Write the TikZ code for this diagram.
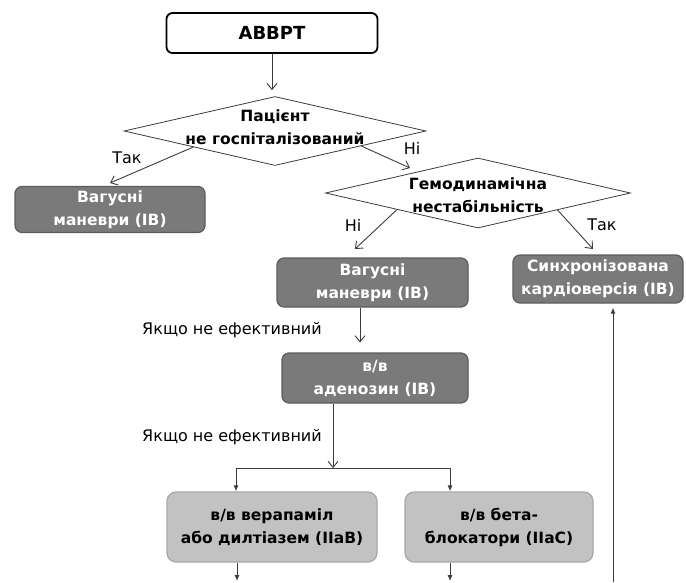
\documentclass[tikz,border=0pt]{standalone}
\usepackage{fontspec}
\setmainfont{DejaVu Sans}
\usetikzlibrary{shapes.geometric,arrows.meta,calc}
\definecolor{darkbox}{RGB}{122,122,122}
\definecolor{darkedge}{RGB}{92,92,92}
\definecolor{lightbox}{RGB}{194,194,194}
\definecolor{lightedge}{RGB}{168,168,168}
\definecolor{linecol}{RGB}{60,60,60}
\begin{document}
\begin{tikzpicture}[x=1pt,y=-1pt,
  boxfont/.style={font=\bfseries\fontsize{15.5}{23}\selectfont},
  dbox/.style={rectangle,rounded corners=7pt,fill=darkbox,draw=darkedge,line width=1.2pt,text=white,boxfont,align=center,inner sep=0pt},
  lbox/.style={rectangle,rounded corners=9pt,fill=lightbox,draw=lightedge,line width=1.2pt,text=black,boxfont,align=center,inner sep=0pt},
  topbox/.style={rectangle,rounded corners=6pt,fill=white,draw=black,line width=1.8pt,font=\bfseries\fontsize{18}{22}\selectfont,inner sep=0pt},
  dia/.style={diamond,draw=linecol,line width=0.8pt,fill=white,inner sep=0pt},
  dtext/.style={boxfont,align=center,inner sep=0pt},
  lab/.style={font=\fontsize{16}{20}\selectfont,inner sep=0pt},
  conn/.style={draw=linecol,line width=0.9pt},
  open/.style={conn,-{Straight Barb[length=6pt,width=10pt,line width=0.9pt]}},
  filled/.style={conn,-{Latex[length=6pt,width=5pt]}}
]
\useasboundingbox (0,0) rectangle (686,582);

\node[topbox,minimum width=211,minimum height=40] (top) at (272,33) {АВВРТ};
\node[dia,minimum width=302,minimum height=69] (d1) at (275,131) {};
\node[dtext] (d1t) at (275,127) {Пацієнт\\не госпіталізований};
\node[dbox,minimum width=190,minimum height=46] (L1) at (110,209.5) {Вагусні\\маневри (IB)};
\node[dia,minimum width=305,minimum height=70] (d2) at (478,193) {};
\node[dtext] (d2t) at (478,195) {Гемодинамічна\\нестабільність};
\node[dbox,minimum width=191,minimum height=49] (M1) at (372.5,282.5) {Вагусні\\маневри (IB)};
\node[dbox,minimum width=170,minimum height=48] (S) at (598,279) {Синхронізована\\кардіоверсія (IB)};
\node[dbox,minimum width=186,minimum height=50] (A) at (375,378) {в/в\\аденозин (IB)};
\node[lbox,minimum width=210,minimum height=70] (B1) at (272,527) {в/в верапаміл\\або дилтіазем (IIaB)};
\node[lbox,minimum width=188,minimum height=70] (B2) at (499,527) {в/в бета-\\блокатори (IIaC)};

\node[lab] (t1) at (127,158) {Так};
\node[lab] (n1) at (412,148) {Ні};
\node[lab] (n2) at (353,225) {Ні};
\node[lab] (t2) at (602,225) {Так};
\node[lab] (e1) at (232,330) {Якщо не ефективний};
\node[lab] (e2) at (232,437) {Якщо не ефективний};

\coordinate (d1a) at ($(d1.west)!0.46!(d1.south)$);
\coordinate (d1b) at ($(d1.south)!0.57!(d1.east)$);
\coordinate (d2a) at ($(d2.west)!0.47!(d2.south)$);
\coordinate (d2b) at ($(d2.south)!0.52!(d2.east)$);
\coordinate (L1in) at (110,183);
\coordinate (d2in) at (410,168);
\coordinate (M1in) at (355,249);
\coordinate (Sin) at (593,249);
\coordinate (j) at (333,468);
\coordinate (jl) at (236,468);
\coordinate (jr) at (450,468);
\coordinate (bl) at (237,581);
\coordinate (br) at (450,581);
\coordinate (rb) at (613,582);

\draw[open] (top.south) -- ($(d1.north)+(-3,-6)$);
\draw[open] (d1a) -- (L1in);
\draw[open] (d1b) -- (d2in);
\draw[open] (d2a) -- (M1in);
\draw[open] (d2b) -- (Sin);
\draw[open] ($(M1.south)+(-12.5,0)$) -- ($(A.north)+(-15,-10)$);
\draw[open] ($(A.south)+(-42,0)$) -- (j);
\draw[conn] (jl) -- (jr);
\draw[filled] (jl) -- (jl |- B1.north);
\draw[filled] (jr) -- (jr |- B2.north);
\draw[filled] (B1.south -| bl) -- (bl);
\draw[filled] (B2.south -| br) -- (br);
\draw[filled] (rb) -- ($(rb |- S.south)+(0,4)$);
\end{tikzpicture}
\end{document}
